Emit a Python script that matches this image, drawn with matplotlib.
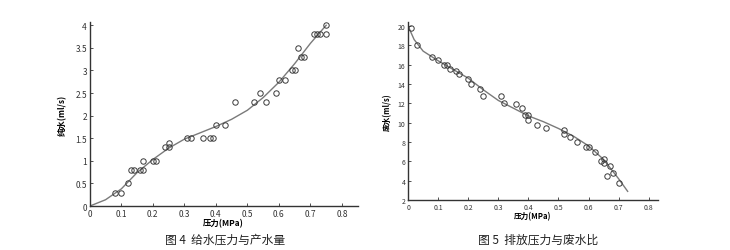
import numpy as np
import matplotlib.pyplot as plt

plt.rcParams['font.family'] = ['Noto Sans CJK SC', 'DejaVu Sans']

# 图4 给水压力与产水量 - measured points
p4_x = [0.08, 0.10, 0.12, 0.13, 0.14, 0.16, 0.17, 0.17, 0.20, 0.21, 0.24, 0.25, 0.25,
        0.31, 0.32, 0.36, 0.38, 0.39, 0.40, 0.43, 0.46, 0.52, 0.54, 0.56, 0.59, 0.60,
        0.62, 0.64, 0.65, 0.66, 0.67, 0.68, 0.71, 0.72, 0.73, 0.75, 0.75]
p4_y = [0.3, 0.3, 0.5, 0.8, 0.8, 0.8, 0.8, 1.0, 1.0, 1.0, 1.3, 1.3, 1.4,
        1.5, 1.5, 1.5, 1.5, 1.5, 1.8, 1.8, 2.3, 2.3, 2.5, 2.3, 2.5, 2.8,
        2.8, 3.0, 3.0, 3.5, 3.3, 3.3, 3.8, 3.8, 3.8, 3.8, 4.0]
# fitted curve
f4_x = [0.0, 0.05, 0.10, 0.15, 0.20, 0.25, 0.30, 0.35, 0.40, 0.45, 0.50, 0.55, 0.60, 0.65, 0.70, 0.75]
f4_y = [0.0, 0.14, 0.38, 0.74, 1.03, 1.28, 1.48, 1.62, 1.76, 1.92, 2.12, 2.40, 2.74, 3.15, 3.60, 4.00]

# 图5 排放压力与废水比 - measured points
p5_x = [0.01, 0.03, 0.08, 0.10, 0.12, 0.13, 0.14, 0.16, 0.17, 0.20, 0.21, 0.24, 0.25,
        0.31, 0.32, 0.36, 0.38, 0.39, 0.40, 0.40, 0.43, 0.46, 0.52, 0.52, 0.54, 0.56,
        0.59, 0.60, 0.62, 0.64, 0.65, 0.65, 0.66, 0.67, 0.68, 0.70]
p5_y = [19.8, 18.0, 16.8, 16.5, 16.0, 16.0, 15.5, 15.3, 15.0, 14.5, 14.0, 13.5, 12.8,
        12.8, 12.0, 11.9, 11.5, 10.8, 10.3, 10.8, 9.8, 9.5, 9.2, 8.8, 8.5, 8.0,
        7.5, 7.5, 7.0, 6.0, 6.2, 5.8, 4.5, 5.5, 4.8, 3.8]
f5_x = [0.0, 0.02, 0.05, 0.10, 0.15, 0.20, 0.25, 0.30, 0.35, 0.40, 0.45, 0.50, 0.55, 0.60, 0.65, 0.70, 0.73]
f5_y = [20.0, 18.6, 17.4, 16.4, 15.5, 14.6, 13.4, 12.3, 11.5, 10.7, 10.1, 9.4, 8.6, 7.6, 6.2, 4.2, 2.9]

xticks = [0, 0.1, 0.2, 0.3, 0.4, 0.5, 0.6, 0.7, 0.8]
xticklabels = ['0', '0.1', '0.2', '0.3', '0.4', '0.5', '0.6', '0.7', '0.8']
yticks4 = [0, 0.5, 1, 1.5, 2, 2.5, 3, 3.5, 4]
yticklabels4 = ['0', '0.5', '1', '1.5', '2', '2.5', '3', '3.5', '4']
yticks5 = [2, 4, 6, 8, 10, 12, 14, 16, 18, 20]

line_c = '#7a7a7a'
mark_c = '#3a3a3a'
ax_c = '#333333'

fig = plt.figure(figsize=(7.3, 2.51), dpi=100)
ax1 = fig.add_axes([0.123, 0.175, 0.367, 0.733])
ax2 = fig.add_axes([0.559, 0.199, 0.342, 0.709])

for ax in (ax1, ax2):
    ax.spines['top'].set_visible(False)
    ax.spines['right'].set_visible(False)
    for s in ('left', 'bottom'):
        ax.spines[s].set_color(ax_c)
        ax.spines[s].set_linewidth(1.0)
    ax.tick_params(direction='in', length=2, width=0.6, colors=ax_c, labelsize=6, pad=2)

ax1.plot(f4_x, f4_y, color=line_c, linewidth=1.0)
ax1.plot(p4_x, p4_y, 'o', markersize=3.9, markerfacecolor='none',
         markeredgecolor=mark_c, markeredgewidth=0.7)
ax1.set_xlim(0, 0.85)
ax1.set_ylim(0, 4.07)
ax1.set_xticks(xticks)
ax1.set_xticklabels(xticklabels)
ax1.set_yticks(yticks4)
ax1.set_yticklabels(yticklabels4)
ax1.set_xlabel('压力(MPa)', fontsize=6, labelpad=0, fontweight='bold')
ax1.set_ylabel('纯水(ml/s)', fontsize=6, labelpad=6, fontweight='bold')

ax2.plot(f5_x, f5_y, color=line_c, linewidth=1.0)
ax2.plot(p5_x, p5_y, 'o', markersize=3.9, markerfacecolor='none',
         markeredgecolor=mark_c, markeredgewidth=0.7)
ax2.set_xlim(0, 0.83)
ax2.set_ylim(2, 20.4)
ax2.set_xticks(xticks)
ax2.set_xticklabels(xticklabels)
ax2.set_yticks(yticks5)
ax2.tick_params(labelsize=5)
ax2.set_xlabel('压力(MPa)', fontsize=5.5, labelpad=0, fontweight='bold')
ax2.set_ylabel('废水(ml/s)', fontsize=5.5, labelpad=4, fontweight='bold')

fig.text(0.308, 0.045, '图 4  给水压力与产水量', ha='center', va='center', fontsize=8.5, color='#222222')
fig.text(0.737, 0.045, '图 5  排放压力与废水比', ha='center', va='center', fontsize=8.5, color='#222222')

fig.savefig('out.png', dpi=100)
